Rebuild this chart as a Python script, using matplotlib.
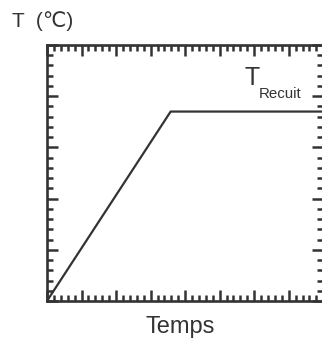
import matplotlib
matplotlib.use("Agg")
import matplotlib.pyplot as plt
from matplotlib.ticker import MultipleLocator

# Data
temps = [0, 3.58, 8]
temperature = [0, 3.70, 3.70]
x_label = "Temps"
y_label = "T  (℃)"
level_main = "T"
level_sub = "Recuit"

col = "#333333"
fams = ["Liberation Sans", "DejaVu Sans"]
plt.rcParams["font.family"] = fams

fig = plt.figure(figsize=(3.22, 3.40), dpi=100)
ax = fig.add_axes([47/322, 1 - 301/340, 1.004 - 47/322, (301 - 45)/340])

ax.plot(temps, temperature, color=col, lw=1.6, solid_capstyle="butt")
ax.set_xlim(0, 8)
ax.set_ylim(0, 5)

ax.xaxis.set_major_locator(MultipleLocator(1))
ax.xaxis.set_minor_locator(MultipleLocator(0.2))
ax.yaxis.set_major_locator(MultipleLocator(1))
ax.yaxis.set_minor_locator(MultipleLocator(0.2))
ax.tick_params(which="both", direction="in", top=True, right=True,
               labelbottom=False, labelleft=False, color=col, width=1.8)
ax.tick_params(which="major", length=8)
ax.tick_params(which="minor", length=4.2)
for s in ax.spines.values():
    s.set_color(col)
    s.set_linewidth(1.9)

ax.text(5.72, 4.22, level_main, color=col, fontsize=18, ha="left", va="baseline")
ax.text(6.12, 3.96, level_sub, color=col, fontsize=10.8, ha="left", va="baseline")

fig.text(12/322, 1 - 27/340, y_label, color=col, fontsize=15, ha="left", va="baseline")
fig.text(180/322, 1 - 333/340, x_label, color=col, fontsize=17, ha="center", va="baseline")

fig.savefig("out.png", dpi=100)
